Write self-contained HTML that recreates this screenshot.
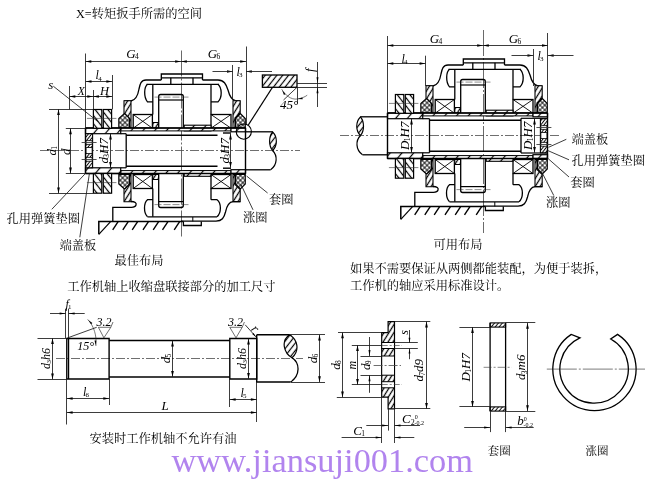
<!DOCTYPE html>
<html lang="zh"><head><meta charset="utf-8"><title>收缩盘联接</title>
<style>html,body{margin:0;padding:0;background:#fff}svg{display:block}#dw{filter:grayscale(1)}</style></head>
<body><svg width="650" height="482" viewBox="0 0 650 482">
<rect width="650" height="482" fill="#fff"/>
<defs>
<pattern id="h1" width="4.2" height="4.2" patternUnits="userSpaceOnUse" patternTransform="rotate(-58)"><rect width="4.2" height="4.2" fill="#fff"/><line x1="0" y1="2.1" x2="4.2" y2="2.1" stroke="#000" stroke-width="1.25"/></pattern>
<pattern id="h2" width="9" height="9" patternUnits="userSpaceOnUse" patternTransform="rotate(-50)"><rect width="9" height="9" fill="#fff"/><line x1="0" y1="4.5" x2="9" y2="4.5" stroke="#000" stroke-width="1.2"/></pattern>
<pattern id="h3" width="5" height="5" patternUnits="userSpaceOnUse" patternTransform="rotate(52)"><rect width="5" height="5" fill="#fff"/><line x1="0" y1="2.5" x2="5" y2="2.5" stroke="#000" stroke-width="1.2"/></pattern>
<pattern id="h5" width="2.6" height="2.6" patternUnits="userSpaceOnUse" patternTransform="rotate(-52)"><rect width="2.6" height="2.6" fill="#fff"/><line x1="0" y1="1.3" x2="2.6" y2="1.3" stroke="#000" stroke-width="1"/></pattern>
<pattern id="h6" width="4.6" height="4.6" patternUnits="userSpaceOnUse" patternTransform="rotate(-52)"><rect width="4.6" height="4.6" fill="#fff"/><line x1="0" y1="2.3" x2="4.6" y2="2.3" stroke="#000" stroke-width="1.2"/></pattern>
<pattern id="h4" width="3" height="3" patternUnits="userSpaceOnUse" patternTransform="rotate(-50)"><rect width="3" height="3" fill="#fff"/><line x1="0" y1="1.5" x2="3" y2="1.5" stroke="#000" stroke-width="0.9"/></pattern>
<pattern id="x1" width="3.4" height="3.4" patternUnits="userSpaceOnUse" patternTransform="rotate(45)"><rect width="3.4" height="3.4" fill="#fff"/><path d="M0 1.7 H3.4 M1.7 0 V3.4" stroke="#000" stroke-width="0.85"/></pattern>
</defs>
<g id="dw">
<text x="76" y="17.6" font-size="12.25" text-anchor="start" fill="#000" style="font-family:'Liberation Serif','Noto Serif CJK SC',serif;" >X=转矩扳手所需的空间</text>
<line x1="181.5" y1="50.5" x2="181.5" y2="238" stroke="#444" stroke-width="0.8" stroke-dasharray="26 2 2 2"/>
<line x1="40" y1="150.5" x2="300" y2="150.5" stroke="#4a4a4a" stroke-width="0.8" stroke-dasharray="9 2 2 2"/>
<path d="M161.3 80 V74 H202.5 V80" stroke="#000" stroke-width="1.3" fill="none" />
<line x1="161.3" y1="77.8" x2="202.5" y2="77.8" stroke="#000" stroke-width="1.2" />
<path d="M161.3 80 H146 C141 80 140 84 139 89 C138 95 136 100 131 101 H124 " stroke="#000" stroke-width="1.3" fill="none" />
<path d="M202.5 80 H218 C224 80 226 84 228 90 C229.5 96 232 100.5 236 101 H240.2" stroke="#000" stroke-width="1.3" fill="none" />
<path d="M146.5 84.3 H219" stroke="#000" stroke-width="1.3" fill="none" />
<line x1="170.8" y1="77.8" x2="170.8" y2="84.3" stroke="#000" stroke-width="1.3" />
<line x1="193" y1="77.8" x2="193" y2="84.3" stroke="#000" stroke-width="1.3" />
<path d="M147.5 84.3 C144 87 143.5 97 147.5 101.9 H152.8" stroke="#000" stroke-width="1.3" fill="none" />
<line x1="152.8" y1="84.3" x2="152.8" y2="114.5" stroke="#000" stroke-width="1.3" />
<path d="M218 84.3 C222 88 222.5 97 218 101.9 H211" stroke="#000" stroke-width="1.3" fill="none" />
<line x1="211" y1="84.3" x2="211" y2="114.5" stroke="#000" stroke-width="1.3" />
<path d="M158.7 127.5 V96.5 Q158.7 94.5 160.7 94.5 H181.3 Q183.3 94.5 183.3 96.5 V127.5" stroke="#000" stroke-width="1.3" fill="none" />
<line x1="158.7" y1="100" x2="183.3" y2="100" stroke="#000" stroke-width="1.2" />
<line x1="154.5" y1="97.1" x2="188.5" y2="97.1" stroke="#222" stroke-width="0.5" stroke-dasharray="7 2"/>
<rect x="133.2" y="114.5" width="19.200000000000017" height="13.699999999999989" stroke="#000" stroke-width="1.3" fill="none"/>
<line x1="133.2" y1="114.5" x2="152.4" y2="128.2" stroke="#000" stroke-width="0.9" />
<line x1="133.2" y1="128.2" x2="152.4" y2="114.5" stroke="#000" stroke-width="0.9" />
<rect x="211" y="114.5" width="20" height="13.699999999999989" stroke="#000" stroke-width="1.3" fill="none"/>
<line x1="211" y1="114.5" x2="231" y2="128.2" stroke="#000" stroke-width="0.9" />
<line x1="211" y1="128.2" x2="231" y2="114.5" stroke="#000" stroke-width="0.9" />
<rect x="152.8" y="122.5" width="5.699999999999989" height="5.5" stroke="#000" stroke-width="1.0" fill="url(#h1)"/>
<path d="M124 100.8 L131 100.8 L131 128 L129.5 128 L129.5 118.5 L124.8 113.5 L124 113.5 Z" stroke="#000" stroke-width="1.1" fill="url(#h1)" />
<path d="M233 100.8 L240.2 100.8 L240.2 113 L235 118 L235 128 L233 128 Z" stroke="#000" stroke-width="1.1" fill="url(#h1)" />
<path d="M118.8 128 L118.8 118.5 L123.8 114 L125 114 L129.6 118.5 L129.6 128 Z" stroke="#000" stroke-width="1.1" fill="url(#x1)" />
<path d="M235.5 128 L235.5 118.5 L240.4 113.5 L245.3 118.5 L245.3 128 Z" stroke="#000" stroke-width="1.1" fill="url(#x1)" />
<rect x="133.2" y="174.5" width="19.200000000000017" height="14.0" stroke="#000" stroke-width="1.3" fill="none"/>
<line x1="133.2" y1="174.5" x2="152.4" y2="188.5" stroke="#000" stroke-width="0.9" />
<line x1="133.2" y1="188.5" x2="152.4" y2="174.5" stroke="#000" stroke-width="0.9" />
<rect x="211" y="174.5" width="20" height="14.0" stroke="#000" stroke-width="1.3" fill="none"/>
<line x1="211" y1="174.5" x2="231" y2="188.5" stroke="#000" stroke-width="0.9" />
<line x1="211" y1="188.5" x2="231" y2="174.5" stroke="#000" stroke-width="0.9" />
<rect x="152.8" y="174.5" width="5.699999999999989" height="5.0" stroke="#000" stroke-width="1.0" fill="url(#h1)"/>
<path d="M158.7 174 V205.5 Q158.7 207.5 160.7 207.5 H181.3 Q183.3 207.5 183.3 205.5 V174" stroke="#000" stroke-width="1.3" fill="none" />
<line x1="158.7" y1="201.6" x2="183.3" y2="201.6" stroke="#000" stroke-width="1.2" />
<line x1="154.5" y1="204.6" x2="188.5" y2="204.6" stroke="#222" stroke-width="0.5" stroke-dasharray="7 2"/>
<path d="M124 201.7 L131 201.7 L131 174.5 L129.5 174.5 L129.5 184 L124.8 189 L124 189 Z" stroke="#000" stroke-width="1.1" fill="url(#h1)" />
<path d="M233 201.7 L240.2 201.7 L240.2 189.5 L235 184.5 L235 174.5 L233 174.5 Z" stroke="#000" stroke-width="1.1" fill="url(#h1)" />
<path d="M118.8 174.5 L118.8 184 L123.8 188.5 L125 188.5 L129.6 184 L129.6 174.5 Z" stroke="#000" stroke-width="1.1" fill="url(#x1)" />
<path d="M235.5 174.5 L235.5 184 L240.4 189 L245.3 184 L245.3 174.5 Z" stroke="#000" stroke-width="1.1" fill="url(#x1)" />
<line x1="152.8" y1="188.5" x2="152.8" y2="216.8" stroke="#000" stroke-width="1.3" />
<path d="M152.8 199.7 H147.5 C143.5 203 143.5 213 147.5 216.8" stroke="#000" stroke-width="1.3" fill="none" />
<line x1="211" y1="188.5" x2="211" y2="199.7" stroke="#000" stroke-width="1.3" />
<path d="M211 199.7 H217 C221.5 203 221.5 213 217 216.8" stroke="#000" stroke-width="1.3" fill="none" />
<path d="M147.5 216.8 H217" stroke="#000" stroke-width="1.3" fill="none" />
<path d="M131 201.5 C135 201.6 136.8 203 136 205 C135.5 206.8 134 207.3 131.5 207.3 H112.8 V221.4" stroke="#000" stroke-width="1.3" fill="none" />
<path d="M98.8 234.3 V221.5 H183.4" stroke="#000" stroke-width="1.5" fill="none" />
<line x1="98.8" y1="234.3" x2="110.8" y2="221.4" stroke="#000" stroke-width="1.2" />
<line x1="118.3" y1="221.4" x2="112.7" y2="229.8" stroke="#000" stroke-width="1.4" />
<line x1="128.4" y1="221.4" x2="122.80000000000001" y2="229.8" stroke="#000" stroke-width="1.4" />
<line x1="137.8" y1="221.4" x2="132.20000000000002" y2="229.8" stroke="#000" stroke-width="1.4" />
<line x1="148.6" y1="221.4" x2="143.0" y2="229.8" stroke="#000" stroke-width="1.4" />
<line x1="158.8" y1="221.4" x2="153.20000000000002" y2="229.8" stroke="#000" stroke-width="1.4" />
<line x1="168.1" y1="221.4" x2="162.5" y2="229.8" stroke="#000" stroke-width="1.4" />
<line x1="179.8" y1="221.4" x2="174.20000000000002" y2="229.8" stroke="#000" stroke-width="1.4" />
<path d="M183.4 221.4 V225.5 H201.3 V221.4" stroke="#000" stroke-width="1.3" fill="none" />
<line x1="192.8" y1="217" x2="192.8" y2="221.4" stroke="#000" stroke-width="1.0" />
<path d="M181 221.2 H216 C222 221 224 218 225.5 212 C227 205 229 202 233 201.7 H240.2" stroke="#000" stroke-width="1.3" fill="none" />
<rect x="184.2" y="125.2" width="26.80000000000001" height="5.700000000000003" stroke="#000" stroke-width="1.1" fill="url(#h2)"/>
<rect x="184.2" y="170.6" width="26.80000000000001" height="5.700000000000017" stroke="#000" stroke-width="1.1" fill="url(#h2)"/>
<rect x="120.7" y="128.0" width="110.3" height="2.9000000000000057" stroke="#000" stroke-width="1.0" fill="url(#h2)"/>
<rect x="120.7" y="170.6" width="110.3" height="2.9000000000000057" stroke="#000" stroke-width="1.0" fill="url(#h2)"/>
<rect x="85.5" y="128.0" width="35.2" height="5.699999999999989" stroke="#000" stroke-width="1.2" fill="url(#h2)"/>
<rect x="85.5" y="167.8" width="35.2" height="5.699999999999989" stroke="#000" stroke-width="1.2" fill="url(#h2)"/>
<rect x="231" y="128.0" width="14.5" height="3.8000000000000114" stroke="#000" stroke-width="1.2" fill="url(#h2)"/>
<rect x="231" y="169.7" width="14.5" height="3.8000000000000114" stroke="#000" stroke-width="1.2" fill="url(#h2)"/>
<line x1="85.5" y1="128.0" x2="245.5" y2="128.0" stroke="#000" stroke-width="1.4" />
<line x1="85.5" y1="173.5" x2="245.5" y2="173.5" stroke="#000" stroke-width="1.4" />
<line x1="85.5" y1="128.0" x2="85.5" y2="173.5" stroke="#000" stroke-width="1.4" />
<line x1="245.5" y1="128.0" x2="245.5" y2="173.5" stroke="#000" stroke-width="1.4" />
<line x1="126.2" y1="133.7" x2="126.2" y2="167.8" stroke="#000" stroke-width="1.3" />
<line x1="120.7" y1="133.7" x2="126.2" y2="133.7" stroke="#000" stroke-width="1.2" />
<line x1="120.7" y1="167.8" x2="126.2" y2="167.8" stroke="#000" stroke-width="1.2" />
<line x1="126.2" y1="135.2" x2="217.5" y2="135.2" stroke="#000" stroke-width="1.5" />
<line x1="126.2" y1="166.2" x2="217.5" y2="166.2" stroke="#000" stroke-width="1.5" />
<line x1="223" y1="133" x2="231" y2="133" stroke="#000" stroke-width="1.4" />
<line x1="223" y1="168.2" x2="231" y2="168.2" stroke="#000" stroke-width="1.4" />
<rect x="93.4" y="109.5" width="8.400000000000006" height="18.80000000000001" stroke="#000" stroke-width="1.2" fill="url(#h3)"/>
<rect x="93.4" y="173.5" width="8.400000000000006" height="19.69999999999999" stroke="#000" stroke-width="1.2" fill="url(#h3)"/>
<rect x="103.30000000000001" y="109.5" width="8.299999999999997" height="18.80000000000001" stroke="#000" stroke-width="1.2" fill="url(#h3)"/>
<rect x="103.30000000000001" y="173.5" width="8.299999999999997" height="19.69999999999999" stroke="#000" stroke-width="1.2" fill="url(#h3)"/>
<line x1="86.9" y1="118.4" x2="116.4" y2="118.4" stroke="#333" stroke-width="0.6" />
<line x1="86.9" y1="182.6" x2="116.4" y2="182.6" stroke="#333" stroke-width="0.6" />
<rect x="85.6" y="133.7" width="7.0" height="34.10000000000002" stroke="#000" stroke-width="1.1" fill="url(#h5)"/>
<rect x="86.1" y="140.7" width="6.0" height="3.6000000000000227" fill="#fff" stroke="#000" stroke-width="0.8"/>
<rect x="86.1" y="147.6" width="6.0" height="6.0" fill="#fff" stroke="#000" stroke-width="0.8"/>
<rect x="86.1" y="157.3" width="6.0" height="3.8999999999999773" fill="#fff" stroke="#000" stroke-width="0.8"/>
<line x1="81.6" y1="142.5" x2="96.6" y2="142.5" stroke="#333" stroke-width="0.85" />
<line x1="81.6" y1="159.5" x2="96.6" y2="159.5" stroke="#333" stroke-width="0.85" />
<line x1="245.6" y1="131.8" x2="272.6" y2="131.8" stroke="#000" stroke-width="1.3" />
<line x1="245.6" y1="169.8" x2="270.6" y2="169.8" stroke="#000" stroke-width="1.3" />
<path d="M272.6 131.8 C277.6 136.8 277.6 145.5 272.6 150.5 C268.6 145.5 268.6 136.8 272.6 131.8 Z" stroke="#000" stroke-width="1.2" fill="url(#h6)" />
<path d="M272.6 150.5 C277.6 155.5 277.6 164.8 270.6 169.8" stroke="#000" stroke-width="1.2" fill="none" />
<circle cx="243.8" cy="131.6" r="7.6" fill="none" stroke="#000" stroke-width="1.1"/>
<line x1="248.3" y1="125" x2="273" y2="86.5" stroke="#000" stroke-width="1.3" />
<rect x="262.4" y="75" width="34.60000000000002" height="12.299999999999997" stroke="#000" stroke-width="1.3" fill="url(#h6)"/>
<line x1="297" y1="83.5" x2="327" y2="83.5" stroke="#1a1a1a" stroke-width="0.85" />
<line x1="297" y1="87.5" x2="327" y2="87.5" stroke="#1a1a1a" stroke-width="0.85" />
<line x1="317.5" y1="62" x2="317.5" y2="107" stroke="#1a1a1a" stroke-width="0.85" />
<polygon points="317.50,83.30 316.50,77.30 318.50,77.30" fill="#000"/>
<polygon points="317.50,87.30 318.50,93.30 316.50,93.30" fill="#000"/>
<text x="313.5" y="72" font-size="13" text-anchor="start" fill="#000" style="font-style:italic;font-family:'Liberation Serif','Noto Serif CJK SC',serif;" transform="rotate(-90 313.5 72)" >f</text>
<line x1="297.5" y1="87.3" x2="297.5" y2="103.5" stroke="#1a1a1a" stroke-width="0.85" />
<line x1="297" y1="87.3" x2="283.5" y2="100" stroke="#1a1a1a" stroke-width="0.85" />
<path d="M281.7 89.2 C285 95 291 100 297.3 99 C301 98.5 305 97 307.2 95.2" stroke="#222" stroke-width="0.6" fill="none" />
<polygon points="282.20,90.20 285.48,94.08 283.92,94.98" fill="#000"/>
<polygon points="297.60,99.00 302.43,97.41 302.68,99.20" fill="#000"/>
<text x="280" y="108.5" font-size="13" text-anchor="start" fill="#000" style="font-style:italic;font-family:'Liberation Serif','Noto Serif CJK SC',serif;" >45°</text>
<line x1="85.5" y1="53.5" x2="85.5" y2="128" stroke="#1a1a1a" stroke-width="0.85" />
<line x1="246.5" y1="46.5" x2="246.5" y2="124" stroke="#1a1a1a" stroke-width="0.85" />
<line x1="85.5" y1="61.5" x2="181" y2="61.5" stroke="#1a1a1a" stroke-width="0.85" />
<polygon points="85.50,61.50 91.30,60.15 91.30,62.85" fill="#000"/>
<polygon points="181.00,61.50 175.20,62.85 175.20,60.15" fill="#000"/>
<line x1="181" y1="61.5" x2="246" y2="61.5" stroke="#1a1a1a" stroke-width="0.85" />
<polygon points="181.00,61.50 186.80,60.15 186.80,62.85" fill="#000"/>
<polygon points="246.00,61.50 240.20,62.85 240.20,60.15" fill="#000"/>
<text x="132.5" y="58" font-size="13" text-anchor="middle" fill="#000" style="font-style:italic;font-family:'Liberation Serif',serif;">G<tspan font-size="7.5" dx="-0.6" dy="1.2" style="font-style:normal">4</tspan><tspan dy="-1.2"></tspan></text>
<text x="214" y="58" font-size="13" text-anchor="middle" fill="#000" style="font-style:italic;font-family:'Liberation Serif',serif;">G<tspan font-size="7.5" dx="-0.6" dy="1.2" style="font-style:normal">6</tspan><tspan dy="-1.2"></tspan></text>
<line x1="232.5" y1="65" x2="232.5" y2="100" stroke="#1a1a1a" stroke-width="0.85" />
<line x1="232.5" y1="71.5" x2="232.5" y2="71.5" stroke="#1a1a1a" stroke-width="0.85" />
<line x1="246.5" y1="71.5" x2="246.5" y2="71.5" stroke="#1a1a1a" stroke-width="0.85" />
<polygon points="232.80,71.50 227.00,72.85 227.00,70.15" fill="#000"/>
<polygon points="246.00,71.50 251.80,70.15 251.80,72.85" fill="#000"/>
<line x1="212.5" y1="71.5" x2="232.8" y2="71.5" stroke="#1a1a1a" stroke-width="0.85" />
<line x1="246" y1="71.5" x2="272" y2="71.5" stroke="#1a1a1a" stroke-width="0.85" />
<text x="239.5" y="76" font-size="12" text-anchor="middle" fill="#000" style="font-style:italic;font-family:'Liberation Serif',serif;">l<tspan font-size="7.0" dx="-0.6" dy="1.2" style="font-style:normal">3</tspan><tspan dy="-1.2"></tspan></text>
<line x1="112.5" y1="75" x2="112.5" y2="109.3" stroke="#1a1a1a" stroke-width="0.85" />
<line x1="85.7" y1="81.5" x2="112.2" y2="81.5" stroke="#1a1a1a" stroke-width="0.85" />
<polygon points="85.70,81.50 91.50,80.15 91.50,82.85" fill="#000"/>
<polygon points="112.20,81.50 106.40,82.85 106.40,80.15" fill="#000"/>
<text x="98.7" y="79.3" font-size="12" text-anchor="middle" fill="#000" style="font-style:italic;font-family:'Liberation Serif',serif;">l<tspan font-size="7.0" dx="-0.6" dy="1.2" style="font-style:normal">4</tspan><tspan dy="-1.2"></tspan></text>
<line x1="69.5" y1="86" x2="69.5" y2="109.3" stroke="#1a1a1a" stroke-width="0.85" />
<line x1="93.5" y1="90" x2="93.5" y2="109.3" stroke="#1a1a1a" stroke-width="0.85" />
<line x1="69.5" y1="96.5" x2="93.1" y2="96.5" stroke="#1a1a1a" stroke-width="0.85" />
<polygon points="69.50,96.50 75.30,95.15 75.30,97.85" fill="#000"/>
<polygon points="93.10,96.50 87.30,97.85 87.30,95.15" fill="#000"/>
<line x1="93.1" y1="96.5" x2="112.2" y2="96.5" stroke="#1a1a1a" stroke-width="0.85" />
<polygon points="93.10,96.50 98.90,95.15 98.90,97.85" fill="#000"/>
<polygon points="112.20,96.50 106.40,97.85 106.40,95.15" fill="#000"/>
<text x="81.3" y="94.9" font-size="11.5" text-anchor="middle" fill="#000" style="font-style:italic;font-family:'Liberation Serif','Noto Serif CJK SC',serif;" >X</text>
<text x="104.5" y="94.9" font-size="12.5" text-anchor="middle" fill="#000" style="font-style:italic;font-family:'Liberation Serif','Noto Serif CJK SC',serif;" >H</text>
<text x="48.3" y="88.7" font-size="13" text-anchor="start" fill="#000" style="font-style:italic;font-family:'Liberation Serif','Noto Serif CJK SC',serif;" >s</text>
<line x1="53.3" y1="86.2" x2="98.7" y2="122.2" stroke="#1a1a1a" stroke-width="0.85" />
<line x1="49" y1="109.5" x2="93" y2="109.5" stroke="#1a1a1a" stroke-width="0.85" />
<line x1="49" y1="193.5" x2="93" y2="193.5" stroke="#1a1a1a" stroke-width="0.85" />
<line x1="65.8" y1="128.5" x2="85.5" y2="128.5" stroke="#1a1a1a" stroke-width="0.85" />
<line x1="65.8" y1="173.5" x2="85.5" y2="173.5" stroke="#1a1a1a" stroke-width="0.85" />
<line x1="58.5" y1="109.2" x2="58.5" y2="193.2" stroke="#1a1a1a" stroke-width="0.85" />
<polygon points="58.50,109.20 59.85,115.00 57.15,115.00" fill="#000"/>
<polygon points="58.50,193.20 57.15,187.40 59.85,187.40" fill="#000"/>
<line x1="70.5" y1="128.4" x2="70.5" y2="173.4" stroke="#1a1a1a" stroke-width="0.85" />
<polygon points="70.50,128.40 71.85,134.20 69.15,134.20" fill="#000"/>
<polygon points="70.50,173.40 69.15,167.60 71.85,167.60" fill="#000"/>
<text x="55.5" y="150.75" font-size="13" text-anchor="middle" fill="#000" style="font-style:italic;font-family:'Liberation Serif',serif;" transform="rotate(-90 55.5 150.75)">d<tspan font-size="7.5" dx="-0.6" dy="1.2" style="font-style:normal">1</tspan><tspan dy="-1.2"></tspan></text>
<text x="69.8" y="151.75" font-size="13" text-anchor="middle" fill="#000" style="font-style:italic;font-family:'Liberation Serif','Noto Serif CJK SC',serif;" transform="rotate(-90 69.8 151.75)" >d</text>
<line x1="110.5" y1="133.6" x2="110.5" y2="167.8" stroke="#1a1a1a" stroke-width="0.85" />
<polygon points="110.50,133.60 111.85,139.40 109.15,139.40" fill="#000"/>
<polygon points="110.50,167.80 109.15,162.00 111.85,162.00" fill="#000"/>
<text x="107.5" y="150.75" font-size="13" text-anchor="middle" fill="#000" style="font-style:italic;font-family:'Liberation Serif',serif;" transform="rotate(-90 107.5 150.75)">d<tspan font-size="7.5" dx="-0.6" dy="1.2" style="font-style:normal">3</tspan><tspan dy="-1.2">H7</tspan></text>
<line x1="230.5" y1="133.6" x2="230.5" y2="167.8" stroke="#1a1a1a" stroke-width="0.85" />
<polygon points="230.50,133.60 231.85,139.40 229.15,139.40" fill="#000"/>
<polygon points="230.50,167.80 229.15,162.00 231.85,162.00" fill="#000"/>
<text x="229.3" y="150.75" font-size="13" text-anchor="middle" fill="#000" style="font-style:italic;font-family:'Liberation Serif',serif;" transform="rotate(-90 229.3 150.75)">d<tspan font-size="7.5" dx="-0.6" dy="1.2" style="font-style:normal">3</tspan><tspan dy="-1.2">H7</tspan></text>
<text x="6.5" y="223" font-size="12.25" text-anchor="start" fill="#000" style="font-family:'Liberation Serif','Noto Serif CJK SC',serif;" >孔用弹簧垫圈</text>
<text x="59.5" y="250" font-size="12.25" text-anchor="start" fill="#000" style="font-family:'Liberation Serif','Noto Serif CJK SC',serif;" >端盖板</text>
<text x="114.5" y="264.5" font-size="12.25" text-anchor="start" fill="#000" style="font-family:'Liberation Serif','Noto Serif CJK SC',serif;" >最佳布局</text>
<line x1="85.4" y1="173.5" x2="51.8" y2="209.3" stroke="#1a1a1a" stroke-width="0.85" />
<line x1="89.4" y1="173.5" x2="79.8" y2="237.3" stroke="#1a1a1a" stroke-width="0.85" />
<text x="269" y="203.5" font-size="12.25" text-anchor="start" fill="#000" style="font-family:'Liberation Serif','Noto Serif CJK SC',serif;" >套圈</text>
<text x="243" y="222" font-size="12.25" text-anchor="start" fill="#000" style="font-family:'Liberation Serif','Noto Serif CJK SC',serif;" >涨圈</text>
<line x1="246.6" y1="176" x2="267.6" y2="193" stroke="#1a1a1a" stroke-width="0.85" />
<line x1="241" y1="184.6" x2="253" y2="209.8" stroke="#1a1a1a" stroke-width="0.85" />
<g transform="translate(302 -15)">
<line x1="181.5" y1="45" x2="181.5" y2="248" stroke="#444" stroke-width="0.8" stroke-dasharray="26 2 2 2"/>
<line x1="38" y1="150.5" x2="259" y2="150.5" stroke="#4a4a4a" stroke-width="0.8" stroke-dasharray="9 2 2 2"/>
<path d="M161.3 80 V74 H202.5 V80" stroke="#000" stroke-width="1.3" fill="none" />
<line x1="161.3" y1="77.8" x2="202.5" y2="77.8" stroke="#000" stroke-width="1.2" />
<path d="M161.3 80 H146 C141 80 140 84 139 89 C138 95 136 100 131 101 H124 " stroke="#000" stroke-width="1.3" fill="none" />
<path d="M202.5 80 H218 C224 80 226 84 228 90 C229.5 96 232 100.5 236 101 H240.2" stroke="#000" stroke-width="1.3" fill="none" />
<path d="M146.5 84.3 H219" stroke="#000" stroke-width="1.3" fill="none" />
<line x1="170.8" y1="77.8" x2="170.8" y2="84.3" stroke="#000" stroke-width="1.3" />
<line x1="193" y1="77.8" x2="193" y2="84.3" stroke="#000" stroke-width="1.3" />
<path d="M147.5 84.3 C144 87 143.5 97 147.5 101.9 H152.8" stroke="#000" stroke-width="1.3" fill="none" />
<line x1="152.8" y1="84.3" x2="152.8" y2="114.5" stroke="#000" stroke-width="1.3" />
<path d="M218 84.3 C222 88 222.5 97 218 101.9 H211" stroke="#000" stroke-width="1.3" fill="none" />
<line x1="211" y1="84.3" x2="211" y2="114.5" stroke="#000" stroke-width="1.3" />
<path d="M158.7 127.5 V96.5 Q158.7 94.5 160.7 94.5 H181.3 Q183.3 94.5 183.3 96.5 V127.5" stroke="#000" stroke-width="1.3" fill="none" />
<line x1="158.7" y1="100" x2="183.3" y2="100" stroke="#000" stroke-width="1.2" />
<line x1="154.5" y1="97.1" x2="188.5" y2="97.1" stroke="#222" stroke-width="0.5" stroke-dasharray="7 2"/>
<rect x="133.2" y="114.5" width="19.200000000000017" height="13.699999999999989" stroke="#000" stroke-width="1.3" fill="none"/>
<line x1="133.2" y1="114.5" x2="152.4" y2="128.2" stroke="#000" stroke-width="0.9" />
<line x1="133.2" y1="128.2" x2="152.4" y2="114.5" stroke="#000" stroke-width="0.9" />
<rect x="211" y="114.5" width="20" height="13.699999999999989" stroke="#000" stroke-width="1.3" fill="none"/>
<line x1="211" y1="114.5" x2="231" y2="128.2" stroke="#000" stroke-width="0.9" />
<line x1="211" y1="128.2" x2="231" y2="114.5" stroke="#000" stroke-width="0.9" />
<rect x="152.8" y="122.5" width="5.699999999999989" height="5.5" stroke="#000" stroke-width="1.0" fill="url(#h1)"/>
<path d="M124 100.8 L131 100.8 L131 128 L129.5 128 L129.5 118.5 L124.8 113.5 L124 113.5 Z" stroke="#000" stroke-width="1.1" fill="url(#h1)" />
<path d="M233 100.8 L240.2 100.8 L240.2 113 L235 118 L235 128 L233 128 Z" stroke="#000" stroke-width="1.1" fill="url(#h1)" />
<path d="M118.8 128 L118.8 118.5 L123.8 114 L125 114 L129.6 118.5 L129.6 128 Z" stroke="#000" stroke-width="1.1" fill="url(#x1)" />
<path d="M235.5 128 L235.5 118.5 L240.4 113.5 L245.3 118.5 L245.3 128 Z" stroke="#000" stroke-width="1.1" fill="url(#x1)" />
<rect x="133.2" y="174.5" width="19.200000000000017" height="14.0" stroke="#000" stroke-width="1.3" fill="none"/>
<line x1="133.2" y1="174.5" x2="152.4" y2="188.5" stroke="#000" stroke-width="0.9" />
<line x1="133.2" y1="188.5" x2="152.4" y2="174.5" stroke="#000" stroke-width="0.9" />
<rect x="211" y="174.5" width="20" height="14.0" stroke="#000" stroke-width="1.3" fill="none"/>
<line x1="211" y1="174.5" x2="231" y2="188.5" stroke="#000" stroke-width="0.9" />
<line x1="211" y1="188.5" x2="231" y2="174.5" stroke="#000" stroke-width="0.9" />
<rect x="152.8" y="174.5" width="5.699999999999989" height="5.0" stroke="#000" stroke-width="1.0" fill="url(#h1)"/>
<path d="M158.7 174 V205.5 Q158.7 207.5 160.7 207.5 H181.3 Q183.3 207.5 183.3 205.5 V174" stroke="#000" stroke-width="1.3" fill="none" />
<line x1="158.7" y1="201.6" x2="183.3" y2="201.6" stroke="#000" stroke-width="1.2" />
<line x1="154.5" y1="204.6" x2="188.5" y2="204.6" stroke="#222" stroke-width="0.5" stroke-dasharray="7 2"/>
<path d="M124 201.7 L131 201.7 L131 174.5 L129.5 174.5 L129.5 184 L124.8 189 L124 189 Z" stroke="#000" stroke-width="1.1" fill="url(#h1)" />
<path d="M233 201.7 L240.2 201.7 L240.2 189.5 L235 184.5 L235 174.5 L233 174.5 Z" stroke="#000" stroke-width="1.1" fill="url(#h1)" />
<path d="M118.8 174.5 L118.8 184 L123.8 188.5 L125 188.5 L129.6 184 L129.6 174.5 Z" stroke="#000" stroke-width="1.1" fill="url(#x1)" />
<path d="M235.5 174.5 L235.5 184 L240.4 189 L245.3 184 L245.3 174.5 Z" stroke="#000" stroke-width="1.1" fill="url(#x1)" />
<line x1="152.8" y1="188.5" x2="152.8" y2="216.8" stroke="#000" stroke-width="1.3" />
<path d="M152.8 199.7 H147.5 C143.5 203 143.5 213 147.5 216.8" stroke="#000" stroke-width="1.3" fill="none" />
<line x1="211" y1="188.5" x2="211" y2="199.7" stroke="#000" stroke-width="1.3" />
<path d="M211 199.7 H217 C221.5 203 221.5 213 217 216.8" stroke="#000" stroke-width="1.3" fill="none" />
<path d="M147.5 216.8 H217" stroke="#000" stroke-width="1.3" fill="none" />
<path d="M131 201.5 C135 201.6 136.8 203 136 205 C135.5 206.8 134 207.3 131.5 207.3 H112.8 V221.4" stroke="#000" stroke-width="1.3" fill="none" />
<path d="M98.8 234.3 V221.5 H183.4" stroke="#000" stroke-width="1.5" fill="none" />
<line x1="98.8" y1="234.3" x2="110.8" y2="221.4" stroke="#000" stroke-width="1.2" />
<line x1="118.3" y1="221.4" x2="112.7" y2="229.8" stroke="#000" stroke-width="1.4" />
<line x1="128.4" y1="221.4" x2="122.80000000000001" y2="229.8" stroke="#000" stroke-width="1.4" />
<line x1="137.8" y1="221.4" x2="132.20000000000002" y2="229.8" stroke="#000" stroke-width="1.4" />
<line x1="148.6" y1="221.4" x2="143.0" y2="229.8" stroke="#000" stroke-width="1.4" />
<line x1="158.8" y1="221.4" x2="153.20000000000002" y2="229.8" stroke="#000" stroke-width="1.4" />
<line x1="168.1" y1="221.4" x2="162.5" y2="229.8" stroke="#000" stroke-width="1.4" />
<line x1="179.8" y1="221.4" x2="174.20000000000002" y2="229.8" stroke="#000" stroke-width="1.4" />
<path d="M183.4 221.4 V225.5 H201.3 V221.4" stroke="#000" stroke-width="1.3" fill="none" />
<line x1="192.8" y1="217" x2="192.8" y2="221.4" stroke="#000" stroke-width="1.0" />
<path d="M181 221.2 H216 C222 221 224 218 225.5 212 C227 205 229 202 233 201.7 H240.2" stroke="#000" stroke-width="1.3" fill="none" />
<rect x="184.2" y="125.2" width="26.80000000000001" height="5.700000000000003" stroke="#000" stroke-width="1.1" fill="url(#h2)"/>
<rect x="184.2" y="170.6" width="26.80000000000001" height="5.700000000000017" stroke="#000" stroke-width="1.1" fill="url(#h2)"/>
<rect x="120.7" y="128.0" width="110.3" height="2.9000000000000057" stroke="#000" stroke-width="1.0" fill="url(#h2)"/>
<rect x="120.7" y="170.6" width="110.3" height="2.9000000000000057" stroke="#000" stroke-width="1.0" fill="url(#h2)"/>
<rect x="85.5" y="128.0" width="35.2" height="5.699999999999989" stroke="#000" stroke-width="1.2" fill="url(#h2)"/>
<rect x="85.5" y="167.8" width="35.2" height="5.699999999999989" stroke="#000" stroke-width="1.2" fill="url(#h2)"/>
<rect x="231" y="128.0" width="14.5" height="3.8000000000000114" stroke="#000" stroke-width="1.2" fill="url(#h2)"/>
<rect x="231" y="169.7" width="14.5" height="3.8000000000000114" stroke="#000" stroke-width="1.2" fill="url(#h2)"/>
<line x1="85.5" y1="128.0" x2="245.5" y2="128.0" stroke="#000" stroke-width="1.4" />
<line x1="85.5" y1="173.5" x2="245.5" y2="173.5" stroke="#000" stroke-width="1.4" />
<line x1="85.5" y1="128.0" x2="85.5" y2="173.5" stroke="#000" stroke-width="1.4" />
<line x1="245.5" y1="128.0" x2="245.5" y2="173.5" stroke="#000" stroke-width="1.4" />
<line x1="127.5" y1="133.7" x2="127.5" y2="167.8" stroke="#000" stroke-width="1.3" />
<line x1="120.7" y1="133.7" x2="127.5" y2="133.7" stroke="#000" stroke-width="1.2" />
<line x1="120.7" y1="167.8" x2="127.5" y2="167.8" stroke="#000" stroke-width="1.2" />
<line x1="127.5" y1="135.2" x2="219" y2="135.2" stroke="#000" stroke-width="1.5" />
<line x1="127.5" y1="166.2" x2="219" y2="166.2" stroke="#000" stroke-width="1.5" />
<line x1="219" y1="133.3" x2="219" y2="168" stroke="#000" stroke-width="1.3" />
<line x1="219" y1="133.3" x2="245.5" y2="133.3" stroke="#000" stroke-width="1.2" />
<line x1="219" y1="168" x2="245.5" y2="168" stroke="#000" stroke-width="1.2" />
<rect x="93.4" y="109.5" width="8.400000000000006" height="18.80000000000001" stroke="#000" stroke-width="1.2" fill="url(#h3)"/>
<rect x="93.4" y="173.5" width="8.400000000000006" height="19.69999999999999" stroke="#000" stroke-width="1.2" fill="url(#h3)"/>
<rect x="103.30000000000001" y="109.5" width="8.299999999999997" height="18.80000000000001" stroke="#000" stroke-width="1.2" fill="url(#h3)"/>
<rect x="103.30000000000001" y="173.5" width="8.299999999999997" height="19.69999999999999" stroke="#000" stroke-width="1.2" fill="url(#h3)"/>
<line x1="86.9" y1="118.4" x2="116.4" y2="118.4" stroke="#333" stroke-width="0.6" />
<line x1="86.9" y1="182.6" x2="116.4" y2="182.6" stroke="#333" stroke-width="0.6" />
<rect x="238.4" y="133.7" width="7.0" height="34.10000000000002" stroke="#000" stroke-width="1.1" fill="url(#h5)"/>
<rect x="238.9" y="140.7" width="6.0" height="3.6000000000000227" fill="#fff" stroke="#000" stroke-width="0.8"/>
<rect x="238.9" y="147.6" width="6.0" height="6.0" fill="#fff" stroke="#000" stroke-width="0.8"/>
<rect x="238.9" y="157.3" width="6.0" height="3.8999999999999773" fill="#fff" stroke="#000" stroke-width="0.8"/>
<line x1="234.4" y1="142.5" x2="249.4" y2="142.5" stroke="#333" stroke-width="0.85" />
<line x1="234.4" y1="159.5" x2="249.4" y2="159.5" stroke="#333" stroke-width="0.85" />
<line x1="85.5" y1="131.8" x2="58.5" y2="131.8" stroke="#000" stroke-width="1.3" />
<line x1="85.5" y1="169.8" x2="60.5" y2="169.8" stroke="#000" stroke-width="1.3" />
<path d="M58.5 131.8 C53.5 136.8 53.5 145.5 58.5 150.5 C62.5 145.5 62.5 136.8 58.5 131.8 Z" stroke="#000" stroke-width="1.2" fill="url(#h6)" />
<path d="M58.5 150.5 C53.5 155.5 53.5 164.8 60.5 169.8" stroke="#000" stroke-width="1.2" fill="none" />
<line x1="109.5" y1="133.6" x2="109.5" y2="167.8" stroke="#1a1a1a" stroke-width="0.85" />
<polygon points="109.50,133.60 110.85,139.40 108.15,139.40" fill="#000"/>
<polygon points="109.50,167.80 108.15,162.00 110.85,162.00" fill="#000"/>
<text x="106.5" y="150.75" font-size="13" text-anchor="middle" fill="#000" style="font-style:italic;font-family:'Liberation Serif',serif;" transform="rotate(-90 106.5 150.75)">D<tspan font-size="7.5" dx="-0.6" dy="1.2" style="font-style:normal">1</tspan><tspan dy="-1.2">H7</tspan></text>
<line x1="232.5" y1="133.6" x2="232.5" y2="167.8" stroke="#1a1a1a" stroke-width="0.85" />
<polygon points="232.50,133.60 233.85,139.40 231.15,139.40" fill="#000"/>
<polygon points="232.50,167.80 231.15,162.00 233.85,162.00" fill="#000"/>
<text x="230" y="150.75" font-size="13" text-anchor="middle" fill="#000" style="font-style:italic;font-family:'Liberation Serif',serif;" transform="rotate(-90 230 150.75)">D<tspan font-size="7.5" dx="-0.6" dy="1.2" style="font-style:normal">1</tspan><tspan dy="-1.2">H7</tspan></text>
<line x1="85.5" y1="51" x2="85.5" y2="128" stroke="#1a1a1a" stroke-width="0.85" />
<line x1="245.5" y1="48" x2="245.5" y2="128" stroke="#1a1a1a" stroke-width="0.85" />
<line x1="85.5" y1="60.5" x2="181" y2="60.5" stroke="#1a1a1a" stroke-width="0.85" />
<polygon points="85.50,60.50 91.30,59.15 91.30,61.85" fill="#000"/>
<polygon points="181.00,60.50 175.20,61.85 175.20,59.15" fill="#000"/>
<line x1="181" y1="60.5" x2="245.8" y2="60.5" stroke="#1a1a1a" stroke-width="0.85" />
<polygon points="181.00,60.50 186.80,59.15 186.80,61.85" fill="#000"/>
<polygon points="245.80,60.50 240.00,61.85 240.00,59.15" fill="#000"/>
<text x="134" y="58" font-size="13" text-anchor="middle" fill="#000" style="font-style:italic;font-family:'Liberation Serif',serif;">G<tspan font-size="7.5" dx="-0.6" dy="1.2" style="font-style:normal">4</tspan><tspan dy="-1.2"></tspan></text>
<text x="213" y="58" font-size="13" text-anchor="middle" fill="#000" style="font-style:italic;font-family:'Liberation Serif',serif;">G<tspan font-size="7.5" dx="-0.6" dy="1.2" style="font-style:normal">6</tspan><tspan dy="-1.2"></tspan></text>
<line x1="123.5" y1="70.7" x2="123.5" y2="101" stroke="#1a1a1a" stroke-width="0.85" />
<line x1="85.5" y1="78.5" x2="123.4" y2="78.5" stroke="#1a1a1a" stroke-width="0.85" />
<polygon points="85.50,78.50 91.30,77.15 91.30,79.85" fill="#000"/>
<polygon points="123.40,78.50 117.60,79.85 117.60,77.15" fill="#000"/>
<text x="102.5" y="77.5" font-size="12" text-anchor="middle" fill="#000" style="font-style:italic;font-family:'Liberation Serif',serif;">l<tspan font-size="7.0" dx="-0.6" dy="1.2" style="font-style:normal">4</tspan><tspan dy="-1.2"></tspan></text>
<line x1="231.5" y1="64" x2="231.5" y2="101" stroke="#1a1a1a" stroke-width="0.85" />
<line x1="231.5" y1="70.5" x2="231.5" y2="70.5" stroke="#1a1a1a" stroke-width="0.85" />
<line x1="245.5" y1="70.5" x2="245.5" y2="70.5" stroke="#1a1a1a" stroke-width="0.85" />
<polygon points="231.30,70.50 225.50,71.85 225.50,69.15" fill="#000"/>
<polygon points="245.80,70.50 251.60,69.15 251.60,71.85" fill="#000"/>
<line x1="209.5" y1="70.5" x2="231.3" y2="70.5" stroke="#1a1a1a" stroke-width="0.85" />
<line x1="245.8" y1="70.5" x2="271.5" y2="70.5" stroke="#1a1a1a" stroke-width="0.85" />
<text x="238.5" y="75" font-size="12" text-anchor="middle" fill="#000" style="font-style:italic;font-family:'Liberation Serif',serif;">l<tspan font-size="7.0" dx="-0.6" dy="1.2" style="font-style:normal">3</tspan><tspan dy="-1.2"></tspan></text>
</g>
<text x="571.6" y="144.2" font-size="12.25" text-anchor="start" fill="#000" style="font-family:'Liberation Serif','Noto Serif CJK SC',serif;" >端盖板</text>
<text x="571.6" y="165.3" font-size="12.25" text-anchor="start" fill="#000" style="font-family:'Liberation Serif','Noto Serif CJK SC',serif;" >孔用弹簧垫圈</text>
<text x="570.3" y="187.3" font-size="12.25" text-anchor="start" fill="#000" style="font-family:'Liberation Serif','Noto Serif CJK SC',serif;" >套圈</text>
<text x="545.9" y="207.3" font-size="12.25" text-anchor="start" fill="#000" style="font-family:'Liberation Serif','Noto Serif CJK SC',serif;" >涨圈</text>
<line x1="566.3" y1="139.3" x2="548.5" y2="147.3" stroke="#1a1a1a" stroke-width="0.85" />
<line x1="569" y1="159.8" x2="547.7" y2="150.5" stroke="#1a1a1a" stroke-width="0.85" />
<line x1="569" y1="177" x2="546.4" y2="157.1" stroke="#1a1a1a" stroke-width="0.85" />
<line x1="553.8" y1="195.6" x2="541.6" y2="171.7" stroke="#1a1a1a" stroke-width="0.85" />
<text x="433.5" y="248.5" font-size="12.25" text-anchor="start" fill="#000" style="font-family:'Liberation Serif','Noto Serif CJK SC',serif;" >可用布局</text>
<text x="350" y="273" font-size="12.25" text-anchor="start" fill="#000" style="font-family:'Liberation Serif','Noto Serif CJK SC',serif;" >如果不需要保证从两侧都能装配，为便于装拆，</text>
<text x="350" y="290" font-size="12.25" text-anchor="start" fill="#000" style="font-family:'Liberation Serif','Noto Serif CJK SC',serif;" >工作机的轴应采用标准设计。</text>
<text x="67.2" y="290.5" font-size="12.25" text-anchor="start" fill="#000" style="font-family:'Liberation Serif','Noto Serif CJK SC',serif;" >工作机轴上收缩盘联接部分的加工尺寸</text>
<line x1="56" y1="358.5" x2="303" y2="358.5" stroke="#4a4a4a" stroke-width="0.8" stroke-dasharray="9 2 2 2"/>
<path d="M66.8 338.5 H109.1 V379 H66.8 Z" stroke="#000" stroke-width="1.4" fill="none" />
<line x1="68.6" y1="338.5" x2="68.6" y2="379" stroke="#000" stroke-width="1.2" />
<line x1="109.1" y1="340.5" x2="229.8" y2="340.5" stroke="#000" stroke-width="1.4" />
<line x1="109.1" y1="377" x2="229.8" y2="377" stroke="#000" stroke-width="1.4" />
<path d="M229.8 338.5 H256.7 V379 H229.8 Z" stroke="#000" stroke-width="1.4" fill="none" />
<path d="M256.7 334.8 H289.5 M256.7 334.8 V382 H290.7" stroke="#000" stroke-width="1.4" fill="none" />
<path d="M289.5 334.8 C297 339 300.5 350 292 357.8 C284 353 280.5 341 289.5 334.8 Z" stroke="#000" stroke-width="1.2" fill="url(#h6)" />
<path d="M292 357.8 C300 363 300.5 375 290.7 382" stroke="#000" stroke-width="1.3" fill="none" />
<line x1="37.5" y1="338.5" x2="66.8" y2="338.5" stroke="#1a1a1a" stroke-width="0.85" />
<line x1="37.5" y1="379.5" x2="66.8" y2="379.5" stroke="#1a1a1a" stroke-width="0.85" />
<line x1="52.5" y1="338.3" x2="52.5" y2="379.2" stroke="#1a1a1a" stroke-width="0.85" />
<polygon points="52.50,338.30 53.85,344.10 51.15,344.10" fill="#000"/>
<polygon points="52.50,379.20 51.15,373.40 53.85,373.40" fill="#000"/>
<text x="49.5" y="358.5" font-size="12" text-anchor="middle" fill="#000" style="font-style:italic;font-family:'Liberation Serif',serif;" transform="rotate(-90 49.5 358.5)">d<tspan font-size="7.0" dx="-0.6" dy="1.2" style="font-style:normal">3</tspan><tspan dy="-1.2">h6</tspan></text>
<line x1="65.5" y1="308.7" x2="65.5" y2="338" stroke="#1a1a1a" stroke-width="0.85" />
<line x1="68.5" y1="308.7" x2="68.5" y2="338" stroke="#1a1a1a" stroke-width="0.85" />
<line x1="50" y1="313.5" x2="65.6" y2="313.5" stroke="#1a1a1a" stroke-width="0.85" />
<line x1="68.6" y1="313.5" x2="84.7" y2="313.5" stroke="#1a1a1a" stroke-width="0.85" />
<polygon points="65.60,313.50 59.60,314.50 59.60,312.50" fill="#000"/>
<polygon points="68.60,313.50 74.60,312.50 74.60,314.50" fill="#000"/>
<text x="68.5" y="308" font-size="12" text-anchor="middle" fill="#000" style="font-style:italic;font-family:'Liberation Serif',serif;">f<tspan font-size="7.0" dx="-0.6" dy="1.2" style="font-style:normal">1</tspan><tspan dy="-1.2"></tspan></text>
<line x1="67.3" y1="338" x2="96.7" y2="327.3" stroke="#1a1a1a" stroke-width="0.85" />
<path d="M87.7 319.4 C94 326 97 336 95.9 346" stroke="#222" stroke-width="0.6" fill="none" />
<polygon points="88.20,320.00 92.37,322.90 91.10,324.17" fill="#000"/>
<polygon points="95.80,345.50 94.47,340.60 96.26,340.44" fill="#000"/>
<text x="77.3" y="349.7" font-size="12" text-anchor="start" fill="#000" style="font-style:italic;font-family:'Liberation Serif','Noto Serif CJK SC',serif;" >15°</text>
<path d="M98.4 327.3 H110.8 L103.9 337.8 Z M110.8 327.3 L113 322" stroke="#111" stroke-width="0.6" fill="none" />
<text x="104" y="326" font-size="12" text-anchor="middle" fill="#000" style="font-style:italic;font-family:'Liberation Serif','Noto Serif CJK SC',serif;" >3.2</text>
<path d="M229.8 327.3 H242.2 L236 337.8 Z M242.2 327.3 L244.4 322" stroke="#111" stroke-width="0.6" fill="none" />
<text x="235.6" y="326" font-size="12" text-anchor="middle" fill="#000" style="font-style:italic;font-family:'Liberation Serif','Noto Serif CJK SC',serif;" >3.2</text>
<line x1="245.2" y1="324.8" x2="255.9" y2="336.8" stroke="#1a1a1a" stroke-width="0.85" />
<polygon points="256.20,337.20 252.19,334.09 253.52,332.88" fill="#000"/>
<text x="250.5" y="329.5" font-size="13" text-anchor="start" fill="#000" style="font-style:italic;font-family:'Liberation Serif','Noto Serif CJK SC',serif;" transform="rotate(48 250.5 329.5)" >r</text>
<line x1="172.5" y1="340.7" x2="172.5" y2="376.8" stroke="#1a1a1a" stroke-width="0.85" />
<polygon points="172.50,340.70 173.85,346.50 171.15,346.50" fill="#000"/>
<polygon points="172.50,376.80 171.15,371.00 173.85,371.00" fill="#000"/>
<text x="170" y="358.5" font-size="13" text-anchor="middle" fill="#000" style="font-style:italic;font-family:'Liberation Serif',serif;" transform="rotate(-90 170 358.5)">d<tspan font-size="7.5" dx="-0.6" dy="1.2" style="font-style:normal">5</tspan><tspan dy="-1.2"></tspan></text>
<line x1="248.5" y1="338.7" x2="248.5" y2="378.8" stroke="#1a1a1a" stroke-width="0.85" />
<polygon points="248.50,338.70 249.85,344.50 247.15,344.50" fill="#000"/>
<polygon points="248.50,378.80 247.15,373.00 249.85,373.00" fill="#000"/>
<text x="246" y="358.5" font-size="12" text-anchor="middle" fill="#000" style="font-style:italic;font-family:'Liberation Serif',serif;" transform="rotate(-90 246 358.5)">d<tspan font-size="7.0" dx="-0.6" dy="1.2" style="font-style:normal">3</tspan><tspan dy="-1.2">h6</tspan></text>
<line x1="290" y1="334.5" x2="325" y2="334.5" stroke="#1a1a1a" stroke-width="0.85" />
<line x1="291" y1="382.5" x2="325" y2="382.5" stroke="#1a1a1a" stroke-width="0.85" />
<line x1="319.5" y1="334.8" x2="319.5" y2="382" stroke="#1a1a1a" stroke-width="0.85" />
<polygon points="319.50,334.80 320.85,340.60 318.15,340.60" fill="#000"/>
<polygon points="319.50,382.00 318.15,376.20 320.85,376.20" fill="#000"/>
<text x="316.5" y="358.5" font-size="13" text-anchor="middle" fill="#000" style="font-style:italic;font-family:'Liberation Serif',serif;" transform="rotate(-90 316.5 358.5)">d<tspan font-size="7.5" dx="-0.6" dy="1.2" style="font-style:normal">6</tspan><tspan dy="-1.2"></tspan></text>
<line x1="338" y1="332.5" x2="381.5" y2="332.5" stroke="#1a1a1a" stroke-width="0.85" />
<line x1="336.8" y1="397.5" x2="381.5" y2="397.5" stroke="#1a1a1a" stroke-width="0.85" />
<line x1="342.5" y1="332.5" x2="342.5" y2="397.2" stroke="#1a1a1a" stroke-width="0.85" />
<polygon points="342.50,332.50 343.85,338.30 341.15,338.30" fill="#000"/>
<polygon points="342.50,397.20 341.15,391.40 343.85,391.40" fill="#000"/>
<text x="339.5" y="365" font-size="13" text-anchor="middle" fill="#000" style="font-style:italic;font-family:'Liberation Serif',serif;" transform="rotate(-90 339.5 365)">d<tspan font-size="7.5" dx="-0.6" dy="1.2" style="font-style:normal">8</tspan><tspan dy="-1.2"></tspan></text>
<line x1="66.5" y1="379" x2="66.5" y2="424.5" stroke="#1a1a1a" stroke-width="0.85" />
<line x1="109.5" y1="379" x2="109.5" y2="405" stroke="#1a1a1a" stroke-width="0.85" />
<line x1="229.5" y1="379" x2="229.5" y2="407" stroke="#1a1a1a" stroke-width="0.85" />
<line x1="256.5" y1="382" x2="256.5" y2="422" stroke="#1a1a1a" stroke-width="0.85" />
<line x1="66.8" y1="398.5" x2="109.1" y2="398.5" stroke="#1a1a1a" stroke-width="0.85" />
<polygon points="66.80,398.50 72.60,397.15 72.60,399.85" fill="#000"/>
<polygon points="109.10,398.50 103.30,399.85 103.30,397.15" fill="#000"/>
<line x1="229.8" y1="399.5" x2="256.7" y2="399.5" stroke="#1a1a1a" stroke-width="0.85" />
<polygon points="229.80,399.50 235.60,398.15 235.60,400.85" fill="#000"/>
<polygon points="256.70,399.50 250.90,400.85 250.90,398.15" fill="#000"/>
<line x1="66.8" y1="412.5" x2="256.7" y2="412.5" stroke="#1a1a1a" stroke-width="0.85" />
<polygon points="66.80,412.50 72.60,411.15 72.60,413.85" fill="#000"/>
<polygon points="256.70,412.50 250.90,413.85 250.90,411.15" fill="#000"/>
<text x="86" y="395.8" font-size="12" text-anchor="middle" fill="#000" style="font-style:italic;font-family:'Liberation Serif',serif;">l<tspan font-size="7.0" dx="-0.6" dy="1.2" style="font-style:normal">6</tspan><tspan dy="-1.2"></tspan></text>
<text x="243.5" y="397" font-size="12" text-anchor="middle" fill="#000" style="font-style:italic;font-family:'Liberation Serif',serif;">l<tspan font-size="7.0" dx="-0.6" dy="1.2" style="font-style:normal">5</tspan><tspan dy="-1.2"></tspan></text>
<text x="165" y="410" font-size="13" text-anchor="middle" fill="#000" style="font-style:italic;font-family:'Liberation Serif','Noto Serif CJK SC',serif;" >L</text>
<text x="89.6" y="443" font-size="12.25" text-anchor="start" fill="#000" style="font-family:'Liberation Serif','Noto Serif CJK SC',serif;" >安装时工作机轴不允许有油</text>
<path d="M388.1 321.6 H394.5 V408.8 H388.1 V397.2 H381.7 V332.7 H388.1 Z" stroke="#000" stroke-width="1.2" fill="url(#h1)" />
<rect x="381.7" y="342.5" width="12.8" height="6.0" fill="#fff" stroke="#000" stroke-width="1"/>
<rect x="381.7" y="356" width="12.8" height="19.19999999999999" fill="#fff" stroke="#000" stroke-width="1"/>
<rect x="381.7" y="381.7" width="12.8" height="6.100000000000023" fill="#fff" stroke="#000" stroke-width="1"/>
<line x1="373.6" y1="365.5" x2="401" y2="365.5" stroke="#4a4a4a" stroke-width="0.8" stroke-dasharray="9 2 2 2"/>
<line x1="381.7" y1="345.5" x2="402" y2="345.5" stroke="#333" stroke-width="0.6" stroke-dasharray="6 2 2 2"/>
<line x1="381.7" y1="384.5" x2="402" y2="384.5" stroke="#333" stroke-width="0.6" stroke-dasharray="6 2 2 2"/>
<line x1="351.8" y1="345.5" x2="381.7" y2="345.5" stroke="#1a1a1a" stroke-width="0.85" />
<line x1="351.8" y1="384.5" x2="381.7" y2="384.5" stroke="#1a1a1a" stroke-width="0.85" />
<line x1="357.5" y1="345.3" x2="357.5" y2="384.8" stroke="#1a1a1a" stroke-width="0.85" />
<polygon points="357.50,345.30 358.85,351.10 356.15,351.10" fill="#000"/>
<polygon points="357.50,384.80 356.15,379.00 358.85,379.00" fill="#000"/>
<text x="356.2" y="365.2" font-size="12" text-anchor="middle" fill="#000" style="font-style:italic;font-family:'Liberation Serif','Noto Serif CJK SC',serif;" transform="rotate(-90 356.2 365.2)" >m</text>
<line x1="360.5" y1="356.5" x2="381.7" y2="356.5" stroke="#1a1a1a" stroke-width="0.85" />
<line x1="360.5" y1="375.5" x2="381.7" y2="375.5" stroke="#1a1a1a" stroke-width="0.85" />
<line x1="369.5" y1="337" x2="369.5" y2="356" stroke="#1a1a1a" stroke-width="0.85" />
<line x1="369.5" y1="375.3" x2="369.5" y2="392.8" stroke="#1a1a1a" stroke-width="0.85" />
<polygon points="369.50,356.00 368.50,350.00 370.50,350.00" fill="#000"/>
<polygon points="369.50,375.30 370.50,381.30 368.50,381.30" fill="#000"/>
<text x="370.3" y="365.2" font-size="13" text-anchor="middle" fill="#000" style="font-style:italic;font-family:'Liberation Serif',serif;" transform="rotate(-90 370.3 365.2)">d<tspan font-size="7.5" dx="-0.6" dy="1.2" style="font-style:normal">9</tspan><tspan dy="-1.2"></tspan></text>
<line x1="394.5" y1="342.5" x2="417.8" y2="342.5" stroke="#1a1a1a" stroke-width="0.85" />
<line x1="394.5" y1="348.5" x2="417.8" y2="348.5" stroke="#1a1a1a" stroke-width="0.85" />
<line x1="409.5" y1="330" x2="409.5" y2="342.8" stroke="#1a1a1a" stroke-width="0.85" />
<line x1="409.5" y1="348.4" x2="409.5" y2="359.2" stroke="#1a1a1a" stroke-width="0.85" />
<polygon points="409.50,342.80 408.60,337.80 410.40,337.80" fill="#000"/>
<polygon points="409.50,348.40 410.40,353.40 408.60,353.40" fill="#000"/>
<text x="408" y="332.5" font-size="12" text-anchor="middle" fill="#000" style="font-style:italic;font-family:'Liberation Serif','Noto Serif CJK SC',serif;" transform="rotate(-90 408 332.5)" >s</text>
<line x1="394.5" y1="321.5" x2="430.3" y2="321.5" stroke="#1a1a1a" stroke-width="0.85" />
<line x1="394.5" y1="408.5" x2="430.3" y2="408.5" stroke="#1a1a1a" stroke-width="0.85" />
<line x1="426.5" y1="321.6" x2="426.5" y2="408.8" stroke="#1a1a1a" stroke-width="0.85" />
<polygon points="426.50,321.60 427.85,327.40 425.15,327.40" fill="#000"/>
<polygon points="426.50,408.80 425.15,403.00 427.85,403.00" fill="#000"/>
<text x="423.5" y="370.2" font-size="13" text-anchor="middle" fill="#000" style="font-style:italic;font-family:'Liberation Serif',serif;" transform="rotate(-90 423.5 370.2)">d<tspan font-size="7.5" dx="-0.6" dy="1.2" style="font-style:normal">7</tspan><tspan dy="-1.2">d9</tspan></text>
<line x1="388.5" y1="408.5" x2="388.5" y2="430.6" stroke="#1a1a1a" stroke-width="0.85" />
<line x1="394.5" y1="408.5" x2="394.5" y2="443" stroke="#1a1a1a" stroke-width="0.85" />
<line x1="381.5" y1="397.2" x2="381.5" y2="443" stroke="#1a1a1a" stroke-width="0.85" />
<line x1="366.3" y1="425.5" x2="388.1" y2="425.5" stroke="#1a1a1a" stroke-width="0.85" />
<line x1="394.5" y1="425.5" x2="420" y2="425.5" stroke="#1a1a1a" stroke-width="0.85" />
<polygon points="388.10,425.50 382.10,426.50 382.10,424.50" fill="#000"/>
<polygon points="394.50,425.50 400.50,424.50 400.50,426.50" fill="#000"/>
<text x="402" y="423.4" font-size="13" style="font-style:italic;font-family:'Liberation Serif',serif;">C<tspan font-size="8" dy="2" style="font-style:normal">2</tspan><tspan font-size="6" dy="-6" style="font-style:normal">0</tspan><tspan font-size="6" dx="-3.2" dy="6" style="font-style:normal">-0.2</tspan></text>
<line x1="341.6" y1="437.5" x2="381.7" y2="437.5" stroke="#1a1a1a" stroke-width="0.85" />
<line x1="394.5" y1="437.5" x2="414.3" y2="437.5" stroke="#1a1a1a" stroke-width="0.85" />
<polygon points="381.70,437.50 375.70,438.50 375.70,436.50" fill="#000"/>
<polygon points="394.50,437.50 400.50,436.50 400.50,438.50" fill="#000"/>
<text x="353.3" y="435" font-size="13" text-anchor="start" fill="#000" style="font-style:italic;font-family:'Liberation Serif',serif;">C<tspan font-size="7.5" dx="-0.6" dy="1.2" style="font-style:normal">1</tspan><tspan dy="-1.2"></tspan></text>
<rect x="490.1" y="322.9" width="15.5" height="4.2000000000000455" stroke="#000" stroke-width="1.1" fill="url(#h4)"/>
<rect x="490.1" y="406.9" width="15.5" height="4.2000000000000455" stroke="#000" stroke-width="1.1" fill="url(#h4)"/>
<line x1="490.1" y1="322.9" x2="490.1" y2="411.1" stroke="#000" stroke-width="1.3" />
<line x1="505.6" y1="322.9" x2="505.6" y2="411.1" stroke="#000" stroke-width="1.3" />
<line x1="483.6" y1="367.3" x2="511.7" y2="367.3" stroke="#333" stroke-width="0.6" stroke-dasharray="8 2 2 2"/>
<line x1="459.4" y1="327.5" x2="490.1" y2="327.5" stroke="#1a1a1a" stroke-width="0.85" />
<line x1="459.4" y1="406.5" x2="490.1" y2="406.5" stroke="#1a1a1a" stroke-width="0.85" />
<line x1="472.5" y1="327.1" x2="472.5" y2="406.9" stroke="#1a1a1a" stroke-width="0.85" />
<polygon points="472.50,327.10 473.85,332.90 471.15,332.90" fill="#000"/>
<polygon points="472.50,406.90 471.15,401.10 473.85,401.10" fill="#000"/>
<text x="470" y="367.3" font-size="13" text-anchor="middle" fill="#000" style="font-style:italic;font-family:'Liberation Serif',serif;" transform="rotate(-90 470 367.3)">D<tspan font-size="7.5" dx="-0.6" dy="1.2" style="font-style:normal">1</tspan><tspan dy="-1.2">H7</tspan></text>
<line x1="505.6" y1="322.5" x2="535.3" y2="322.5" stroke="#1a1a1a" stroke-width="0.85" />
<line x1="505.6" y1="411.5" x2="535.3" y2="411.5" stroke="#1a1a1a" stroke-width="0.85" />
<line x1="527.5" y1="322.9" x2="527.5" y2="411.1" stroke="#1a1a1a" stroke-width="0.85" />
<polygon points="527.50,322.90 528.85,328.70 526.15,328.70" fill="#000"/>
<polygon points="527.50,411.10 526.15,405.30 528.85,405.30" fill="#000"/>
<text x="525.5" y="367.3" font-size="13" text-anchor="middle" fill="#000" style="font-style:italic;font-family:'Liberation Serif',serif;" transform="rotate(-90 525.5 367.3)">d<tspan font-size="7.5" dx="-0.6" dy="1.2" style="font-style:normal">3</tspan><tspan dy="-1.2">m6</tspan></text>
<line x1="490.5" y1="411.1" x2="490.5" y2="432.1" stroke="#1a1a1a" stroke-width="0.85" />
<line x1="505.5" y1="411.1" x2="505.5" y2="432.1" stroke="#1a1a1a" stroke-width="0.85" />
<line x1="464.2" y1="427.5" x2="490.1" y2="427.5" stroke="#1a1a1a" stroke-width="0.85" />
<line x1="505.6" y1="427.5" x2="533.7" y2="427.5" stroke="#1a1a1a" stroke-width="0.85" />
<polygon points="490.10,427.50 484.10,428.50 484.10,426.50" fill="#000"/>
<polygon points="505.60,427.50 511.60,426.50 511.60,428.50" fill="#000"/>
<text x="517.3" y="424.7" font-size="13" style="font-style:italic;font-family:'Liberation Serif',serif;">b<tspan font-size="6" dy="-4" style="font-style:normal">0</tspan><tspan font-size="6" dx="-3.2" dy="6" style="font-style:normal">-0.2</tspan></text>
<text x="487.8" y="455" font-size="11.5" text-anchor="start" fill="#000" style="font-family:'Liberation Serif','Noto Serif CJK SC',serif;" >套圈</text>
<text x="585.4" y="455" font-size="11.5" text-anchor="start" fill="#000" style="font-family:'Liberation Serif','Noto Serif CJK SC',serif;" >涨圈</text>
<path d="M571.3 334.4 A41.6 41.6 0 1 0 617.6 334.4 L610.7 339 A34.2 34.2 0 1 1 579.9 337.8 Z" stroke="#000" stroke-width="1.3" fill="none" />
<line x1="546.8" y1="369.1" x2="645" y2="369.1" stroke="#222" stroke-width="0.6" stroke-dasharray="30 2 2 2"/>
</g>
<text x="171.5" y="472" font-size="34.4" fill="#b184ee" style="font-family:'Liberation Serif',serif;">www.jiansuji001.com</text>
</svg></body></html>
